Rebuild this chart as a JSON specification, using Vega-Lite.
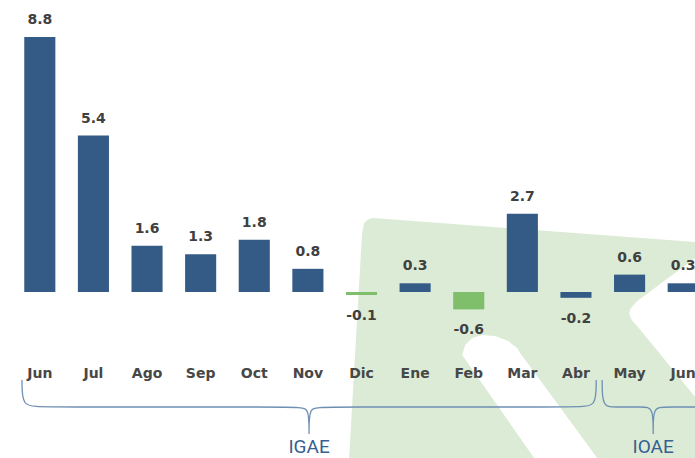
{
  "$schema": "https://vega.github.io/schema/vega-lite/v6.json",
  "width": 682,
  "height": 458,
  "autosize": {"type": "none"},
  "padding": {"left": 13, "top": 0, "right": 0, "bottom": 0},
  "background": "white",
  "config": {"view": {"stroke": null}},
  "datasets": {
    "meses": [
      {"periodo": "Jun 2020", "mes": "Jun", "valor": 8.8, "destacado": "no"},
      {"periodo": "Jul 2020", "mes": "Jul", "valor": 5.4, "destacado": "no"},
      {"periodo": "Ago 2020", "mes": "Ago", "valor": 1.6, "destacado": "no"},
      {"periodo": "Sep 2020", "mes": "Sep", "valor": 1.3, "destacado": "no"},
      {"periodo": "Oct 2020", "mes": "Oct", "valor": 1.8, "destacado": "no"},
      {"periodo": "Nov 2020", "mes": "Nov", "valor": 0.8, "destacado": "no"},
      {"periodo": "Dic 2020", "mes": "Dic", "valor": -0.1, "destacado": "sí"},
      {"periodo": "Ene 2021", "mes": "Ene", "valor": 0.3, "destacado": "no"},
      {"periodo": "Feb 2021", "mes": "Feb", "valor": -0.6, "destacado": "sí"},
      {"periodo": "Mar 2021", "mes": "Mar", "valor": 2.7, "destacado": "no"},
      {"periodo": "Abr 2021", "mes": "Abr", "valor": -0.2, "destacado": "no"},
      {"periodo": "May 2021", "mes": "May", "valor": 0.6, "destacado": "no"},
      {"periodo": "Jun 2021", "mes": "Jun", "valor": 0.3, "destacado": "no"}
    ],
    "fondo": [
      {"xq": 6.269, "arriba": -5.728, "abajo": -5.728},
      {"xq": 6.511, "arriba": 2.036, "abajo": -5.728},
      {"xq": 6.549, "arriba": 2.381, "abajo": -5.728},
      {"xq": 6.623, "arriba": 2.502, "abajo": -5.728},
      {"xq": 6.716, "arriba": 2.553, "abajo": -5.728},
      {"xq": 12.724, "arriba": 1.725, "abajo": -5.728},
      {"xq": 13.19, "arriba": 1.656, "abajo": -5.728}
    ],
    "huecos": [
      {"hueco": "franja", "xq": 8.377, "arriba": -2.174, "abajo": -2.174},
      {"hueco": "franja", "xq": 8.433, "arriba": -1.829, "abajo": -2.322},
      {"hueco": "franja", "xq": 8.563, "arriba": -1.587, "abajo": -2.667},
      {"hueco": "franja", "xq": 8.75, "arriba": -1.484, "abajo": -3.161},
      {"hueco": "franja", "xq": 8.993, "arriba": -1.518, "abajo": -3.803},
      {"hueco": "franja", "xq": 9.235, "arriba": -1.691, "abajo": -4.444},
      {"hueco": "franja", "xq": 9.403, "arriba": -1.932, "abajo": -4.89},
      {"hueco": "franja", "xq": 9.459, "arriba": -2.105, "abajo": -5.038},
      {"hueco": "franja", "xq": 9.72, "arriba": -2.764, "abajo": -5.728},
      {"hueco": "franja", "xq": 10.896, "arriba": -5.728, "abajo": -5.728},
      {"hueco": "muesca", "xq": 11.493, "arriba": -0.725, "abajo": -0.725},
      {"hueco": "muesca", "xq": 11.521, "arriba": -0.569, "abajo": -0.897},
      {"hueco": "muesca", "xq": 11.567, "arriba": -0.466, "abajo": -1.035},
      {"hueco": "muesca", "xq": 11.642, "arriba": -0.311, "abajo": -1.173},
      {"hueco": "muesca", "xq": 12.724, "arriba": 1.173, "abajo": -3.623},
      {"hueco": "muesca", "xq": 13.19, "arriba": 1.656, "abajo": -4.693}
    ],
    "llaves": [
      {"llave": "IGAE", "k": 1, "xq": 0.168, "yv": -3.037},
      {"llave": "IGAE", "k": 2, "xq": 0.168, "yv": -3.968},
      {"llave": "IGAE", "k": 3, "xq": 0.504, "yv": -3.968},
      {"llave": "IGAE", "k": 4, "xq": 5.317, "yv": -3.968},
      {"llave": "IGAE", "k": 5, "xq": 5.522, "yv": -3.968},
      {"llave": "IGAE", "k": 6, "xq": 5.522, "yv": -4.9},
      {"llave": "IGAE", "k": 7, "xq": 5.522, "yv": -4.9},
      {"llave": "IGAE", "k": 8, "xq": 5.522, "yv": -4.9},
      {"llave": "IGAE", "k": 9, "xq": 5.522, "yv": -3.968},
      {"llave": "IGAE", "k": 10, "xq": 5.728, "yv": -3.968},
      {"llave": "IGAE", "k": 11, "xq": 10.578, "yv": -3.968},
      {"llave": "IGAE", "k": 12, "xq": 10.877, "yv": -3.968},
      {"llave": "IGAE", "k": 13, "xq": 10.877, "yv": -3.037},
      {"llave": "IOAE", "k": 1, "xq": 10.989, "yv": -3.037},
      {"llave": "IOAE", "k": 2, "xq": 10.989, "yv": -3.968},
      {"llave": "IOAE", "k": 3, "xq": 11.213, "yv": -3.968},
      {"llave": "IOAE", "k": 4, "xq": 11.754, "yv": -3.968},
      {"llave": "IOAE", "k": 5, "xq": 11.94, "yv": -3.968},
      {"llave": "IOAE", "k": 6, "xq": 11.94, "yv": -4.9},
      {"llave": "IOAE", "k": 7, "xq": 11.94, "yv": -4.9},
      {"llave": "IOAE", "k": 8, "xq": 11.94, "yv": -4.9},
      {"llave": "IOAE", "k": 9, "xq": 11.94, "yv": -3.968},
      {"llave": "IOAE", "k": 10, "xq": 12.127, "yv": -3.968},
      {"llave": "IOAE", "k": 11, "xq": 13.377, "yv": -3.968},
      {"llave": "IOAE", "k": 12, "xq": 13.563, "yv": -3.968},
      {"llave": "IOAE", "k": 13, "xq": 13.563, "yv": -3.037}
    ],
    "etiquetas": [
      {"etiqueta": "IGAE", "xq": 5.522},
      {"etiqueta": "IOAE", "xq": 11.94}
    ]
  },
  "layer": [
    {
      "data": {"name": "fondo"},
      "mark": {"type": "area", "color": "#dcebd5", "opacity": 1},
      "encoding": {
        "x": {"field": "xq", "type": "quantitative", "axis": null, "scale": {"domain": [0, 13], "range": [0, 697], "nice": false, "zero": false}},
        "y": {"field": "arriba", "type": "quantitative", "axis": null, "scale": {"domain": [-5.728, 10.076], "nice": false, "zero": false}},
        "y2": {"field": "abajo"}
      }
    },
    {
      "data": {"name": "huecos"},
      "mark": {"type": "area", "color": "white", "opacity": 1},
      "encoding": {
        "x": {"field": "xq", "type": "quantitative", "axis": null, "scale": {"domain": [0, 13], "range": [0, 697], "nice": false, "zero": false}},
        "y": {"field": "arriba", "type": "quantitative", "axis": null, "scale": {"domain": [-5.728, 10.076], "nice": false, "zero": false}},
        "y2": {"field": "abajo"},
        "detail": {"field": "hueco", "type": "nominal"}
      }
    },
    {
      "data": {"name": "meses"},
      "mark": {"type": "bar"},
      "encoding": {
        "x": {"field": "periodo", "type": "nominal", "sort": null, "axis": null, "scale": {"range": [0, 697], "paddingInner": 0.42, "paddingOuter": 0.21}},
        "y": {"field": "valor", "type": "quantitative", "axis": null, "scale": {"domain": [-5.728, 10.076], "nice": false, "zero": false}},
        "y2": {"datum": 0},
        "color": {"field": "destacado", "type": "nominal", "legend": null, "scale": {"domain": ["no", "sí"], "range": ["#345b86", "#7fbf6b"]}}
      }
    },
    {
      "mark": {"type": "rule", "color": "#4a6e99", "strokeWidth": 1.5},
      "encoding": {
        "y": {"datum": 0, "type": "quantitative", "axis": null, "scale": {"domain": [-5.728, 10.076], "nice": false, "zero": false}}
      }
    },
    {
      "data": {"name": "meses"},
      "mark": {"type": "text", "font": "DejaVu Sans", "fontWeight": "bold", "fontSize": 14, "color": "#404040", "baseline": "alphabetic", "dy": -13},
      "encoding": {
        "x": {"field": "periodo", "type": "nominal", "sort": null, "axis": null, "scale": {"range": [0, 697], "paddingInner": 0.42, "paddingOuter": 0.21}},
        "y": {"field": "valor", "type": "quantitative", "axis": null, "scale": {"domain": [-5.728, 10.076], "nice": false, "zero": false}},
        "text": {"condition": {"test": "datum.valor >= 0", "field": "valor", "type": "nominal"}, "value": ""}
      }
    },
    {
      "data": {"name": "meses"},
      "mark": {"type": "text", "font": "DejaVu Sans", "fontWeight": "bold", "fontSize": 14, "color": "#404040", "baseline": "alphabetic", "dy": 25},
      "encoding": {
        "x": {"field": "periodo", "type": "nominal", "sort": null, "axis": null, "scale": {"range": [0, 697], "paddingInner": 0.42, "paddingOuter": 0.21}},
        "y": {"field": "valor", "type": "quantitative", "axis": null, "scale": {"domain": [-5.728, 10.076], "nice": false, "zero": false}},
        "text": {"condition": {"test": "datum.valor < 0", "field": "valor", "type": "nominal"}, "value": ""}
      }
    },
    {
      "data": {"name": "meses"},
      "mark": {"type": "text", "font": "DejaVu Sans", "fontWeight": "bold", "fontSize": 14, "color": "#474747", "baseline": "alphabetic"},
      "encoding": {
        "x": {"field": "periodo", "type": "nominal", "sort": null, "axis": null, "scale": {"range": [0, 697], "paddingInner": 0.42, "paddingOuter": 0.21}},
        "y": {"datum": -2.968, "type": "quantitative", "axis": null, "scale": {"domain": [-5.728, 10.076], "nice": false, "zero": false}},
        "text": {"field": "mes", "type": "nominal"}
      }
    },
    {
      "data": {"name": "llaves"},
      "mark": {"type": "line", "interpolate": "basis", "color": "#6e8fb3", "strokeWidth": 1.3},
      "encoding": {
        "x": {"field": "xq", "type": "quantitative", "axis": null, "scale": {"domain": [0, 13], "range": [0, 697], "nice": false, "zero": false}},
        "y": {"field": "yv", "type": "quantitative", "axis": null, "scale": {"domain": [-5.728, 10.076], "nice": false, "zero": false}},
        "order": {"field": "k", "type": "quantitative"},
        "detail": {"field": "llave", "type": "nominal"}
      }
    },
    {
      "data": {"name": "etiquetas"},
      "mark": {"type": "text", "font": "Roboto", "fontSize": 19, "color": "#35608f", "baseline": "alphabetic"},
      "encoding": {
        "x": {"field": "xq", "type": "quantitative", "axis": null, "scale": {"domain": [0, 13], "range": [0, 697], "nice": false, "zero": false}},
        "y": {"datum": -5.556, "type": "quantitative", "axis": null, "scale": {"domain": [-5.728, 10.076], "nice": false, "zero": false}},
        "text": {"field": "etiqueta", "type": "nominal"}
      }
    }
  ],
  "resolve": {"scale": {"x": "independent"}}
}
